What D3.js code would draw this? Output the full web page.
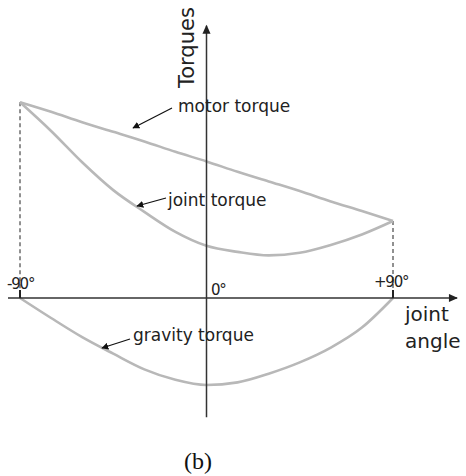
<!DOCTYPE html>
<html><head><meta charset="utf-8">
<script src="https://cdn.jsdelivr.net/npm/d3@7"></script>
<style>body{margin:0;background:#fff}svg{display:block}</style>
</head><body>
<svg id="c" width="466" height="476"></svg>
<script>
// data (torque in arbitrary units, angle in degrees)
const angles        = [-90, -75, -60, -45, -30, -15, 0, 15, 30, 45, 60, 75, 90];
const motorTorque   = [22.5, 21.4, 20.2, 19.1, 18.0, 16.8, 15.7, 14.5, 13.4, 12.3, 11.1, 10.0, 8.85];
const jointTorque   = [22.5, 19.2, 15.6, 12.4, 9.9, 7.6, 6.0, 5.3, 4.9, 5.2, 6.1, 7.3, 8.85];
const gravityTorque = [0, -2.3, -4.5, -6.4, -8.2, -9.4, -10.0, -9.7, -8.7, -7.4, -5.7, -3.4, 0];
const tickAngles = [-90, 0, 90];
const tickLabels = ["-90°", "0°", "+90°"];
const seriesLabels = ["motor torque", "joint torque", "gravity torque"];

const svg = d3.select("#c");
const x = d3.scaleLinear().domain([-90, 90]).range([20, 393]);
const y = d3.scaleLinear().domain([0, 10]).range([298, 211]);

const defs = svg.append("defs");
defs.append("marker").attr("id","ah").attr("viewBox","0 0 10 10").attr("refX",9).attr("refY",5)
  .attr("markerWidth",7).attr("markerHeight",7).attr("markerUnits","userSpaceOnUse").attr("orient","auto")
  .append("path").attr("d","M0,0L10,5L0,10z").attr("fill","#111");
defs.append("marker").attr("id","axh").attr("viewBox","0 0 10 10").attr("refX",9).attr("refY",5)
  .attr("markerWidth",10).attr("markerHeight",9).attr("markerUnits","userSpaceOnUse").attr("orient","auto")
  .append("path").attr("d","M0,0.5L10,5L0,9.5z").attr("fill","#222");
defs.append("filter").attr("id","blur").append("feGaussianBlur").attr("stdDeviation",0.6);

// dashed verticals
[[-90, motorTorque[0]], [90, motorTorque[motorTorque.length-1]]].forEach(([a,v]) => {
  svg.append("line").attr("x1",x(a)).attr("x2",x(a)).attr("y1",y(v)).attr("y2",y(0))
    .attr("stroke","#222").attr("stroke-width",1).attr("stroke-dasharray","4,3");
});

// curves
const line = d3.line().x((d,i)=>x(angles[i])).y(d=>y(d)).curve(d3.curveMonotoneX);
[motorTorque, jointTorque, gravityTorque].forEach(s => {
  svg.append("path").attr("d", line(s)).attr("fill","none").attr("stroke","#b8b8b8")
    .attr("stroke-width",2.6).attr("filter","url(#blur)");
});

// axes
svg.append("line").attr("x1",x(-95.8)).attr("x2",x(120.9)).attr("y1",y(0)).attr("y2",y(0))
  .attr("stroke","#333").attr("stroke-width",1.5).attr("marker-end","url(#axh)");
svg.append("line").attr("x1",x(0)).attr("x2",x(0)).attr("y1",y(-13.7)).attr("y2",y(31.3))
  .attr("stroke","#333").attr("stroke-width",1.5).attr("marker-end","url(#axh)");

// ticks at ±90
[-90, 90].forEach(a => {
  svg.append("line").attr("x1",x(a)).attr("x2",x(a)).attr("y1",y(0)-8).attr("y2",y(0))
    .attr("stroke","#222").attr("stroke-width",2);
});

const font = "'DejaVu Sans', sans-serif";
// tick labels
const tickPos = [[7,289],[211,295],[374,287]];
tickAngles.forEach((a,i) => {
  svg.append("text").attr("x",tickPos[i][0]).attr("y",tickPos[i][1]).text(tickLabels[i])
    .attr("font-family",font).attr("font-size",15).attr("letter-spacing",-1.2).attr("fill","#222");
});

// axis titles
svg.append("text").attr("x",405).attr("y",321).text("joint").attr("font-family",font).attr("font-size",20).attr("fill","#222");
svg.append("text").attr("x",405).attr("y",348).text("angle").attr("font-family",font).attr("font-size",20).attr("fill","#222");
svg.append("text").attr("transform","translate(194,88) rotate(-90)").text("Torques")
  .attr("font-family",font).attr("font-size",21).attr("fill","#222");

// series labels with arrows
const lbl = [
  {t:seriesLabels[0], tx:178, ty:112, ax1:172, ay1:108, ax2:133, ay2:128},
  {t:seriesLabels[1], tx:168, ty:206, ax1:166, ay1:198, ax2:137, ay2:206},
  {t:seriesLabels[2], tx:133, ty:341, ax1:130, ay1:339, ax2:102, ay2:348}
];
lbl.forEach(d => {
  svg.append("line").attr("x1",d.ax1).attr("y1",d.ay1).attr("x2",d.ax2).attr("y2",d.ay2)
    .attr("stroke","#111").attr("stroke-width",1.2).attr("marker-end","url(#ah)");
  svg.append("text").attr("x",d.tx).attr("y",d.ty).text(d.t).attr("font-family",font)
    .attr("font-size",17).attr("fill","#222");
});

svg.append("text").attr("x",198).attr("y",469).attr("text-anchor","middle").text("(b)")
  .attr("font-family","'Liberation Serif', serif").attr("font-size",24).attr("fill","#111");
</script>
</body></html>
